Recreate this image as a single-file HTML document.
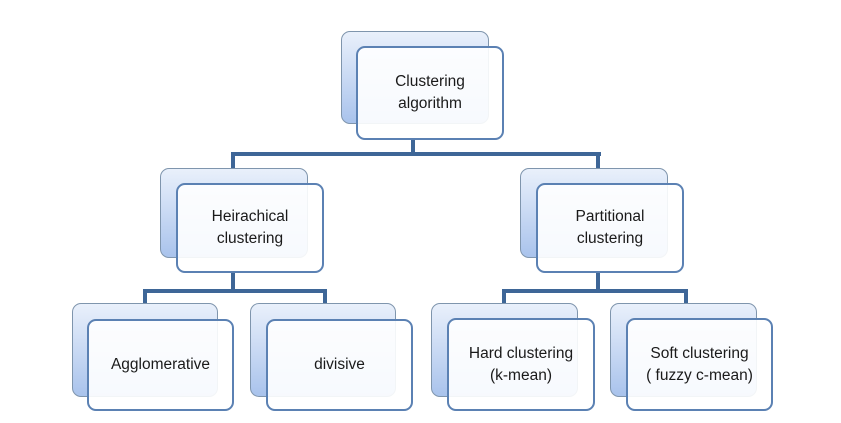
<!DOCTYPE html>
<html><head><style>
body{margin:0;width:841px;height:423px;background:#fff;position:relative;overflow:hidden;font-family:"Liberation Sans",sans-serif;}
.b{position:absolute;border:1.5px solid #7f95ad;border-radius:9px;background:linear-gradient(to bottom,#e9f0fb,#a9c3ec);box-sizing:border-box;}
.f{position:absolute;border:2px solid #5b81b3;border-radius:9px;background:rgba(255,255,255,0.9);box-sizing:border-box;display:flex;align-items:center;justify-content:center;text-align:center;font-size:15.5px;line-height:22px;color:#1a1a1a;}
.l{position:absolute;background:#3e6697;}
</style></head><body>
<div class="l" style="left:411px;top:138px;width:4px;height:18px"></div>
<div class="l" style="left:231px;top:152px;width:370px;height:4px"></div>
<div class="l" style="left:231px;top:152px;width:4px;height:18px"></div>
<div class="l" style="left:596px;top:152px;width:4px;height:18px"></div>

<div class="l" style="left:231px;top:271px;width:4px;height:22px"></div>
<div class="l" style="left:143px;top:289px;width:184px;height:4px"></div>
<div class="l" style="left:143px;top:289px;width:4px;height:16px"></div>
<div class="l" style="left:323px;top:289px;width:4px;height:16px"></div>

<div class="l" style="left:596px;top:271px;width:4px;height:22px"></div>
<div class="l" style="left:502px;top:289px;width:186px;height:4px"></div>
<div class="l" style="left:502px;top:289px;width:4px;height:16px"></div>
<div class="l" style="left:684px;top:289px;width:4px;height:16px"></div>

<div class="b" style="left:341px;top:31px;width:148px;height:93px"></div>
<div class="f" style="left:356px;top:46px;width:148px;height:94px">Clustering<br>algorithm</div>

<div class="b" style="left:160px;top:168px;width:148px;height:90px"></div>
<div class="f" style="left:176px;top:183px;width:148px;height:90px">Heirachical<br>clustering</div>

<div class="b" style="left:520px;top:168px;width:148px;height:90px"></div>
<div class="f" style="left:536px;top:183px;width:148px;height:90px">Partitional<br>clustering</div>

<div class="b" style="left:72px;top:303px;width:146px;height:94px"></div>
<div class="f" style="left:87px;top:319px;width:147px;height:92px">Agglomerative</div>

<div class="b" style="left:250px;top:303px;width:146px;height:94px"></div>
<div class="f" style="left:266px;top:319px;width:147px;height:92px">divisive</div>

<div class="b" style="left:431px;top:303px;width:147px;height:94px"></div>
<div class="f" style="left:447px;top:318px;width:148px;height:93px">Hard clustering<br>(k-mean)</div>

<div class="b" style="left:610px;top:303px;width:147px;height:94px"></div>
<div class="f" style="left:626px;top:318px;width:147px;height:93px">Soft clustering<br>( fuzzy c-mean)</div>
</body></html>
